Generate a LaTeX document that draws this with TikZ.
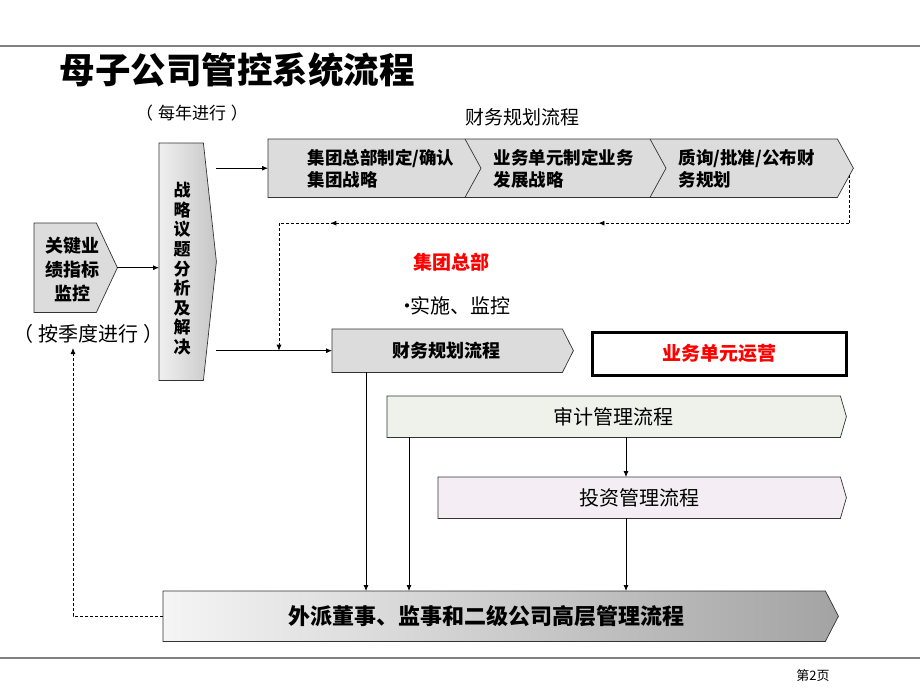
\documentclass[tikz,border=0pt]{standalone}
\usepackage{fontspec}
\setmainfont{Noto Sans CJK SC}
\usetikzlibrary{calc,arrows.meta,decorations.markings}
\definecolor{sjfill}{HTML}{EEF2EA}
\definecolor{tzfill}{HTML}{F4EEF4}
\definecolor{boxfill}{HTML}{DCDCDC}
\begin{document}
\begin{tikzpicture}[x=1pt,y=-1pt,
  conn/.style={draw=black, line width=0.8pt, -{Latex[length=6pt,width=5pt]}},
  dconn/.style={draw=black, line width=0.8pt, dash pattern=on 3pt off 2pt},
  box/.style={inner sep=0pt, anchor=north west},
  edge/.style={draw=black!80, line width=0.7pt},
  fs/.style={font=\fontsize{#1}{#1}\selectfont}]
\useasboundingbox (0,0) rectangle (920,690);
\fill[white] (0,0) rectangle (920,690);
\draw[gray, line width=2pt] (0,46) -- (920,46);
\draw[gray, line width=2pt] (0,658) -- (920,658);

% title and labels
\node[anchor=west, font=\fontsize{35.5}{35.5}\selectfont\bfseries] (title) at (56,70) {母子公司管控系统流程};
\node[fs=17] (yr) at (192,113) {（\hspace{5pt}每年进行\hspace{5pt}）};
\node[fs=19] (cwlabel) at (522,117) {财务规划流程};

% top chevron band
\node[box, minimum width=585pt, minimum height=58pt] (top) at (268,139) {};
\path[edge, fill=boxfill] (top.north west) -- ($(top.north east)+(-16,0)$) -- (top.east) -- ($(top.south east)+(-16,0)$) -- (top.south west) -- cycle;
\draw[edge] ($(top.north west)+(197,0)$) -- ($(top.west)+(213,0)$) -- ($(top.south west)+(197,0)$);
\draw[edge] ($(top.north west)+(382,0)$) -- ($(top.west)+(398,0)$) -- ($(top.south west)+(382,0)$);
\node[anchor=west, align=left, font=\fontsize{17.5}{22}\selectfont\bfseries] (t1) at ($(top.west)+(36,1)$) {集团总部制定/确认\\集团战略};
\node[anchor=west, align=left, font=\fontsize{17.5}{22}\selectfont\bfseries] (t2) at ($(top.west)+(222,1)$) {业务单元制定业务\\发展战略};
\node[anchor=west, align=left, font=\fontsize{17.5}{22}\selectfont\bfseries] (t3) at ($(top.west)+(407,1)$) {质询/批准/公布财\\务规划};

% strategy box
\node[box, minimum width=57pt, minimum height=237pt] (zl) at (159,143) {};
\path[edge, left color=gray!12, right color=gray!45] (zl.north west) -- ($(zl.north east)+(-13,0)$) -- (zl.east) -- ($(zl.south east)+(-13,0)$) -- (zl.south west) -- cycle;
\node[align=center, font=\fontsize{17}{19.6}\selectfont\bfseries] (zlt) at ($(zl.center)+(-5.5,7)$) {战\\略\\议\\题\\分\\析\\及\\解\\决};

% KPI box
\node[box, minimum width=83pt, minimum height=89pt] (kpi) at (34,223) {};
\path[edge, fill=boxfill] (kpi.north west) -- ($(kpi.north east)+(-21,0)$) -- (kpi.east) -- ($(kpi.south east)+(-21,0)$) -- (kpi.south west) -- cycle;
\node[align=center, font=\fontsize{18}{24}\selectfont\bfseries] (kpit) at ($(kpi.center)+(-3,2)$) {关键业\\绩指标\\监控};
\node[fs=20] (qtr) at (88,334) {（\hspace{5pt}按季度进行\hspace{5pt}）};

% HQ labels
\node[font=\fontsize{19}{19}\selectfont\bfseries, text=red] (hq) at (451,262) {集团总部};
\node[fs=20] (impl) at (454,306) {•\kern-7pt 实施、监控};

% financial planning box
\node[box, minimum width=241pt, minimum height=43pt] (cw) at (332,329) {};
\path[edge, fill=boxfill] (cw.north west) -- ($(cw.north east)+(-11,0)$) -- (cw.east) -- ($(cw.south east)+(-11,0)$) -- (cw.south west) -- cycle;
\node[font=\fontsize{18}{18}\selectfont\bfseries] (cwt) at ($(cw.center)+(-6,0)$) {财务规划流程};

% business unit operation
\node[box, draw=black, line width=3pt, minimum width=254pt, minimum height=43pt, font=\fontsize{19}{19}\selectfont\bfseries, text=red] (yy) at (590.5,330.5) {业务单元运营};

% audit
\node[box, minimum width=459pt, minimum height=41pt] (sj) at (387,396) {};
\path[edge, fill=sjfill] (sj.north west) -- ($(sj.north east)+(-6,0)$) -- (sj.east) -- ($(sj.south east)+(-6,0)$) -- (sj.south west) -- cycle;
\node[fs=20] (sjt) at ($(sj.center)+(-3,0)$) {审计管理流程};

% investment
\node[box, minimum width=408pt, minimum height=41pt] (tz) at (438,477) {};
\path[edge, fill=tzfill] (tz.north west) -- ($(tz.north east)+(-6,0)$) -- (tz.east) -- ($(tz.south east)+(-6,0)$) -- (tz.south west) -- cycle;
\node[fs=20] (tzt) at ($(tz.center)+(-3,0)$) {投资管理流程};

% bottom box
\node[box, minimum width=675pt, minimum height=50pt] (bot) at (163,591) {};
\path[edge, left color=gray!8, right color=gray!72] (bot.north west) -- ($(bot.north east)+(-13,0)$) -- (bot.east) -- ($(bot.south east)+(-13,0)$) -- (bot.south west) -- cycle;
\node[font=\fontsize{22}{22}\selectfont\bfseries] (bott) at ($(bot.center)+(-14,0)$) {外派董事、监事和二级公司高层管理流程};

% page number
\node[fs=13] (pg) at (813,676) {第2页};

% connectors
\draw[conn] (zl.east |- top.west) -- (top.west);
\draw[conn] (kpi.east) -- (zl.west |- kpi.east);
\draw[conn] (zl.east |- cw.west) -- (cw.west);

\coordinate (c1) at ($(cw.south west)+(34,0)$);
\draw[conn] (c1) -- (c1 |- bot.north);
\coordinate (c2) at ($(sj.south west)+(22,0)$);
\draw[conn] (c2) -- (c2 |- bot.north);
\coordinate (c3) at ($(sj.south west)+(239,0)$);
\draw[conn] (c3) -- (c3 |- tz.north);
\draw[conn] (c3 |- tz.south) -- (c3 |- bot.north);

% dashed feedback from top band
\coordinate (d0) at ($(top.east)+(-4,7)$);
\coordinate (d1) at ($(top.east)+(-4,55)$);
\coordinate (d2) at ($(cw.west)+(-53,0)$);
\draw[dconn] (d0) -- (d1);
\draw[dconn, postaction={decorate}, decoration={markings,
   mark=at position 0.44 with {\arrow{Latex[length=6pt,width=5pt]}},
   mark=at position 0.91 with {\arrow{Latex[length=6pt,width=5pt]}}}] (d1) -- (d2 |- d1);
\draw[dconn, -{Latex[length=6pt,width=5pt]}] (d2 |- d1) -- (d2);

% dashed feedback from bottom box
\coordinate (q) at (73,348);
\draw[dconn, -{Latex[length=6pt,width=5pt]}] (bot.west) -- (q |- bot.west) -- (q);
\end{tikzpicture}
\end{document}
